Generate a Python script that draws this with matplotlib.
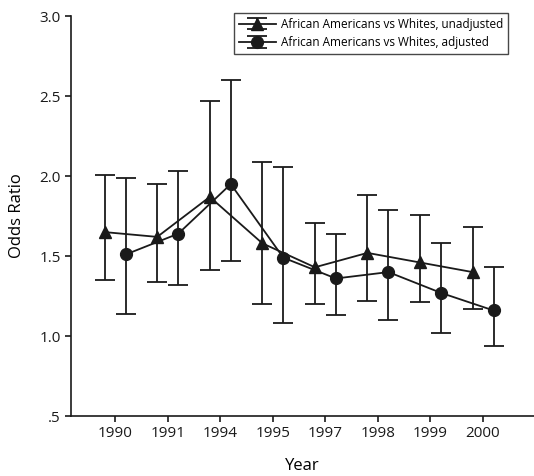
import numpy as np
import matplotlib
matplotlib.use('Agg')
import matplotlib.pyplot as plt

plt.rcParams['font.family'] = ['Open Sans', 'DejaVu Sans']

years = ['1990', '1991', '1994', '1995', '1997', '1998', '1999', '2000']

# unadjusted (triangles)
unadj = [1.65, 1.62, 1.87, 1.58, 1.43, 1.52, 1.46, 1.40]
unadj_lo = [1.35, 1.34, 1.41, 1.20, 1.20, 1.22, 1.21, 1.17]
unadj_hi = [2.01, 1.95, 2.47, 2.09, 1.71, 1.88, 1.76, 1.68]

# adjusted (circles)
adj = [1.51, 1.64, 1.95, 1.49, 1.36, 1.40, 1.27, 1.16]
adj_lo = [1.14, 1.32, 1.47, 1.08, 1.13, 1.10, 1.02, 0.94]
adj_hi = [1.99, 2.03, 2.60, 2.06, 1.64, 1.79, 1.58, 1.43]

x = np.arange(len(years))
off = 0.2

fig = plt.figure(figsize=(5.34, 4.76), dpi=100)
ax = fig.add_axes([0.133, 0.126, 0.867, 0.840])

u = np.array(unadj)
a = np.array(adj)
ax.errorbar(x - off, u, yerr=[u - np.array(unadj_lo), np.array(unadj_hi) - u],
            color='#1a1a1a', marker='^', markersize=9, lw=1.3, elinewidth=1.3,
            capsize=7.5, capthick=1.3, label='African Americans vs Whites, unadjusted')
ax.errorbar(x + off, a, yerr=[a - np.array(adj_lo), np.array(adj_hi) - a],
            color='#1a1a1a', marker='o', markersize=8.5, lw=1.3, elinewidth=1.3,
            capsize=7.5, capthick=1.3, label='African Americans vs Whites, adjusted')

ax.set_xlim(-0.84, 7.97)
ax.set_ylim(0.5, 3.0)
ax.set_xticks(x)
ax.set_xticklabels(years)
ax.set_yticks([0.5, 1.0, 1.5, 2.0, 2.5, 3.0])
ax.set_yticklabels(['.5', '1.0', '1.5', '2.0', '2.5', '3.0'])
ax.tick_params(direction='out', length=4, width=1.2, labelsize=11, colors='#1a1a1a')
for s in ['top', 'right']:
    ax.spines[s].set_visible(False)
for s in ['left', 'bottom']:
    ax.spines[s].set_linewidth(1.2)
    ax.spines[s].set_color('#1a1a1a')

ax.set_ylabel('Odds Ratio', fontsize=12, labelpad=10)
ax.set_xlabel('Year', fontsize=12, labelpad=12)

leg = ax.legend(loc='upper right', bbox_to_anchor=(0.944, 1.008), fontsize=8.5,
                frameon=True, fancybox=False, edgecolor='#1a1a1a', borderaxespad=0,
                handlelength=3.2, borderpad=0.4, labelspacing=0.45, handletextpad=0.4)
leg.get_frame().set_linewidth(1.0)

fig.savefig('out.png', dpi=100)
